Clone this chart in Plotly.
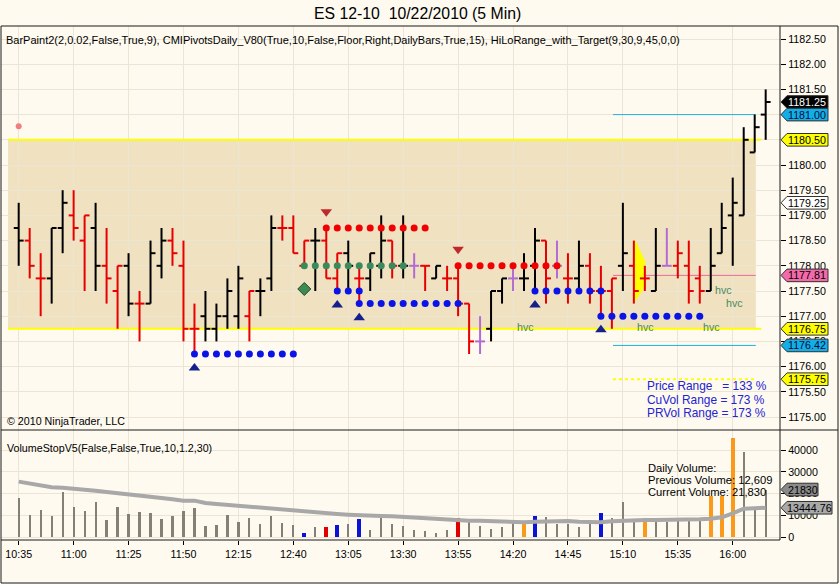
import plotly.graph_objects as go

# ---------------- data ----------------
tick_labels = ["10:35", "11:00", "11:25", "11:50", "12:15", "12:40", "13:05",
               "13:30", "13:55", "14:20", "14:45", "15:10", "15:35", "16:00"]

opens = [1178.75, 1178.5, 1177.75, 1177.75, 1178.75, 1179.0, 1178.5, 1178.75, 1178.0, 1177.5,
         1178.0, 1177.25, 1177.25, 1178.0, 1178.5, 1178.0, 1176.75, 1177.0, 1176.75, 1177.0,
         1177.0, 1177.0, 1177.5, 1177.75, 1178.75, 1178.75, 1178.0, 1178.5, 1178.5, 1177.75,
         1178.25, 1177.75, 1177.75, 1178.0, 1178.5, 1178.0, 1178.0, 1178.0, 1177.75, 1177.75,
         1177.75, 1177.25, 1176.5, 1176.75, 1177.5, 1177.75, 1177.75, 1178.0, 1178.5, 1178.0,
         1177.75, 1177.75, 1178.0, 1177.5, 1177.5, 1178.0, 1178.0, 1177.75, 1177.5, 1178.0,
         1178.0, 1178.0, 1177.75, 1177.5, 1178.25, 1179.0, 1179.0, 1180.25, 1181.0]
highs = [1179.25, 1178.75, 1178.25, 1178.75, 1179.5, 1179.5, 1179.0, 1179.25, 1178.75, 1178.0,
         1178.25, 1177.5, 1178.5, 1178.75, 1178.75, 1178.5, 1177.25, 1177.5, 1177.25, 1177.75,
         1178.0, 1177.5, 1177.75, 1179.0, 1179.0, 1179.0, 1178.5, 1178.75, 1178.75, 1178.25,
         1178.5, 1178.0, 1178.25, 1179.0, 1178.5, 1179.0, 1178.25, 1178.0, 1178.0, 1178.0,
         1178.0, 1177.25, 1177.0, 1177.5, 1177.75, 1178.0, 1178.25, 1178.75, 1178.5, 1178.5,
         1178.25, 1178.5, 1178.25, 1178.0, 1177.75, 1179.25, 1178.5, 1178.0, 1178.75, 1178.75,
         1178.5, 1178.5, 1178.0, 1178.75, 1179.25, 1179.75, 1180.75, 1181.0, 1181.5]
lows = [1178.0, 1177.75, 1177.0, 1177.25, 1178.25, 1178.5, 1177.5, 1177.5, 1177.25, 1176.75,
        1177.0, 1176.5, 1177.25, 1177.75, 1178.0, 1176.5, 1176.25, 1176.5, 1176.5, 1176.75,
        1176.75, 1176.5, 1177.0, 1177.5, 1178.5, 1178.25, 1178.0, 1177.5, 1177.75, 1177.5,
        1177.5, 1177.25, 1177.5, 1177.75, 1177.75, 1177.75, 1177.75, 1177.5, 1177.75, 1177.5,
        1177.0, 1176.25, 1176.25, 1176.5, 1177.25, 1177.5, 1177.5, 1177.5, 1177.25, 1177.75,
        1177.25, 1177.5, 1177.25, 1177.0, 1176.75, 1177.5, 1177.25, 1177.5, 1177.5, 1178.0,
        1177.75, 1177.25, 1177.25, 1177.5, 1178.25, 1178.0, 1179.0, 1180.25, 1180.5]
closes = [1178.5, 1178.0, 1177.75, 1178.75, 1179.25, 1178.75, 1179.0, 1178.0, 1177.75, 1178.0,
          1177.25, 1177.25, 1178.25, 1178.5, 1178.25, 1176.75, 1176.75, 1176.75, 1177.0, 1177.5,
          1177.75, 1177.5, 1177.5, 1178.75, 1178.75, 1178.25, 1178.5, 1178.5, 1177.75, 1178.25,
          1178.0, 1177.75, 1178.25, 1178.5, 1178.0, 1178.0, 1178.0, 1178.0, 1178.0, 1177.75,
          1177.25, 1176.5, 1176.5, 1177.5, 1177.75, 1177.75, 1177.75, 1178.5, 1177.75, 1178.0,
          1177.75, 1178.0, 1177.5, 1177.5, 1177.75, 1178.25, 1177.5, 1177.75, 1178.0, 1178.0,
          1178.25, 1177.5, 1177.5, 1178.0, 1178.75, 1179.25, 1180.5, 1180.75, 1181.25]
# bar paint: k = black, r = red, p = violet
bar_paint = ("krrkkrrkrr" "krkkrrrkkk" "krkkrrrkrr" "krkkrkprkr"
             "rrpkkpkkrp" "rkrrrkrrkp" "rrrkkkkkk")

volumes = [18090, 10120, 12400, 9800, 20850, 13950, 12100, 16250, 7800, 13950,
           10580, 11500, 11040, 8280, 9800, 12100, 13500, 5200, 5520, 10100,
           6900, 8900, 6000, 9660, 6600, 5500, 1840, 4750, 4750, 5500,
           6000, 8430, 3220, 8900, 6000, 5060, 3220, 2760, 1690, 3220,
           8900, 7050, 5060, 3680, 4750, 6600, 6300, 9660, 9050, 6000,
           6000, 4750, 6300, 10900, 8900, 16250, 8280, 7050, 8280, 7050,
           8130, 8130, 8900, 19000, 19000, 45700, 39250, 12880, 21830]
# volume paint: g = gray, b = blue, r = red, o = orange
vol_paint = ("gggggggggg" "gggggggggg" "ggggggbgrb" "gbgggggggg"
             "rgggggobgg" "gggbgggogg" "gggooogggg")[:69]
vol_ma = [25450, 24530, 23760, 22840, 22690, 22380, 21920, 21310, 20700, 20240,
          19780, 19160, 18550, 17940, 17320, 16710, 16710, 15640, 15180, 14720,
          14260, 13950, 13640, 13340, 12880, 12420, 11800, 11190, 10880, 10580,
          10270, 9960, 9810, 9660, 9500, 9200, 8740, 8430, 7970, 7660,
          7510, 7510, 7510, 7360, 7050, 6750, 6750, 7050, 7200, 7360,
          7360, 7050, 6750, 6750, 7200, 7510, 7660, 7820, 7820, 7820,
          7820, 7820, 8120, 8430, 9040, 10880, 13030, 13180, 13444.76]

# pivot dot runs: start bar, end bar, price level, colour key
dot_start = [16, 26, 28, 29, 31, 40, 47, 53]
dot_end = [25, 35, 37, 31, 40, 49, 53, 62]
dot_level = [1176.25, 1178.0, 1178.75, 1177.5, 1177.25, 1178.0, 1177.5, 1177.0]
dot_kind = ["b", "g", "r", "b", "b", "r", "b", "b"]

tri_down_x = [28, 40]
tri_down_y = [1179.07, 1178.33]
tri_up_x = [16, 29, 31, 47, 53]
tri_up_y = [1175.97, 1177.22, 1176.97, 1177.22, 1176.73]
diamond_x = [26]
diamond_y = [1177.54]
flag_x = [0]
flag_y = [1180.77]
wedge_x = [56.1, 57.0, 57.0, 56.1]
wedge_y = [1178.5, 1178.08, 1177.6, 1177.3]

hvc_x = [46.1, 57.1, 63.1, 64.2, 65.2]
hvc_y = [1176.79, 1176.79, 1176.79, 1177.52, 1177.26]

range_top, range_bottom = 1180.50, 1176.75
target_up, target_dn = 1181.00, 1176.42
pivot_pink = 1177.81
yellow_low = 1175.75
last_price = 1181.25
prior_mark = 1179.25

range_lines = ["Price Range   = 133 %", "CuVol Range = 173 %", "PRVol Range = 173 %"]
vol_lines = ["Daily Volume:", "Previous Volume: 12,609", "Current Volume: 21,830"]
last_volume = 21830
last_vol_ma = 13444.76

# ---------------- geometry ----------------
W, H = 840, 584
ML, MR, MT, MB = 1, 60, 26, 44
PW, PH = W - ML - MR, H - MT - MB
PX0, PXB = 18.7, 10.985           # pixel of first bar, pixels per bar
PY_TOP, PY_SEP, PY_BOT = 26, 430, 540
PPP = 50.4                          # pixels per price point
VPP = 87.0 / 40000                  # pixels per contract


def pxx(px):
    return (px - ML) / PW


def pxy(py):
    return (PY_BOT - py) / PH


FONT = "Liberation Sans, Arial, sans-serif"
BG = "#fefaf0"
GRID = "#ebe5d6"
COL = {"k": "#000000", "r": "#e80000", "p": "#b36bd4"}
DOTC = {"b": "#0a14e6", "g": "#3b8a5c", "r": "#f00000"}
VCOL = {"g": "#858076", "b": "#0a14d8", "r": "#e00000", "o": "#fb9a1a"}

x_lo = (ML - PX0) / PXB
x_hi = (ML + PW - PX0) / PXB
p_hi = 1182.5 + (39 - PY_TOP) / PPP
p_lo = 1182.5 - (PY_SEP - 39) / PPP
v_hi = (537 - PY_SEP) / VPP
v_lo = -(PY_BOT - 537) / VPP
dom_split = (PY_BOT - PY_SEP) / PH

fig = go.Figure()

# yellow wedge
fig.add_trace(go.Scatter(x=wedge_x, y=wedge_y, fill="toself", mode="lines",
                         fillcolor="#ffff00", line=dict(color="#ffff00", width=1),
                         hoverinfo="skip"))

# OHLC bars drawn as segments
TW = 0.45
for key in "krp":
    xs, ys = [], []
    for i, c in enumerate(bar_paint):
        if c != key:
            continue
        xs += [i, i, None, i - TW, i, None, i, i + TW, None]
        ys += [lows[i], highs[i], None, opens[i], opens[i], None, closes[i], closes[i], None]
    fig.add_trace(go.Scatter(x=xs, y=ys, mode="lines", connectgaps=False,
                             line=dict(color=COL[key], width=2), hoverinfo="skip"))

# pivot dots
for s, e, lv, k in zip(dot_start, dot_end, dot_level, dot_kind):
    xs = list(range(s, e + 1))
    fig.add_trace(go.Scatter(x=xs, y=[lv] * len(xs), mode="markers",
                             marker=dict(color=DOTC[k], size=7), hoverinfo="skip"))

fig.add_trace(go.Scatter(x=tri_down_x, y=tri_down_y, mode="markers",
                         marker=dict(symbol="triangle-down", size=10, color="#c0282c"), hoverinfo="skip"))
fig.add_trace(go.Scatter(x=tri_up_x, y=tri_up_y, mode="markers",
                         marker=dict(symbol="triangle-up", size=10, color="#15208c"), hoverinfo="skip"))
fig.add_trace(go.Scatter(x=diamond_x, y=diamond_y, mode="markers",
                         marker=dict(symbol="diamond", size=10, color="#3f8a52",
                                     line=dict(color="#1f4a2a", width=1)), hoverinfo="skip"))
fig.add_trace(go.Scatter(x=flag_x, y=flag_y, mode="markers",
                         marker=dict(size=6, color="#f08080"), hoverinfo="skip"))

# volume
fig.add_trace(go.Bar(x=list(range(len(volumes))), y=volumes, yaxis="y2",
                     marker=dict(color=[VCOL[c] for c in vol_paint], line=dict(width=0)),
                     width=[0.2 if c == "g" else 0.38 for c in vol_paint], hoverinfo="skip"))
fig.add_trace(go.Scatter(x=list(range(len(vol_ma))), y=vol_ma, yaxis="y2", mode="lines",
                         line=dict(color="#a8a8a8", width=4), hoverinfo="skip"))

shapes = []
# price range box
shapes.append(dict(type="rect", xref="x", yref="y", x0=-0.97, x1=67.1,
                   y0=range_bottom, y1=range_top, fillcolor="#f0e1c1",
                   line=dict(width=0), layer="below"))
shapes.append(dict(type="line", xref="x", yref="y", x0=-0.97, x1=67.6, y0=range_top, y1=range_top,
                   line=dict(color="#ffff00", width=2), layer="between"))
shapes.append(dict(type="line", xref="x", yref="y", x0=-0.97, x1=67.6, y0=range_bottom, y1=range_bottom,
                   line=dict(color="#ffff00", width=2), layer="between"))
shapes.append(dict(type="line", xref="x", yref="y", x0=54.1, x1=67.1, y0=yellow_low, y1=yellow_low,
                   line=dict(color="#ffff00", width=2, dash="dot"), layer="between"))
for lv in (target_up, target_dn):
    shapes.append(dict(type="line", xref="x", yref="y", x0=54.1, x1=67.1, y0=lv, y1=lv,
                       line=dict(color="#1fb0e0", width=1), layer="between"))
shapes.append(dict(type="line", xref="x", yref="y", x0=54.1, x1=67.1, y0=pivot_pink, y1=pivot_pink,
                   line=dict(color="#e86a9a", width=1), layer="between"))

# frame
frame = "#1a1a1a"
shapes += [
    dict(type="line", xref="paper", yref="paper", x0=pxx(1), x1=pxx(838), y0=pxy(PY_TOP), y1=pxy(PY_TOP), line=dict(color=frame, width=1)),
    dict(type="line", xref="paper", yref="paper", x0=pxx(1), x1=pxx(838), y0=pxy(PY_SEP), y1=pxy(PY_SEP), line=dict(color=frame, width=1)),
    dict(type="line", xref="paper", yref="paper", x0=pxx(1), x1=pxx(838), y0=pxy(583), y1=pxy(583), line=dict(color=frame, width=1)),
    dict(type="line", xref="paper", yref="paper", x0=pxx(1), x1=pxx(780), y0=pxy(PY_BOT), y1=pxy(PY_BOT), line=dict(color=frame, width=1)),
    dict(type="line", xref="paper", yref="paper", x0=pxx(1), x1=pxx(1), y0=pxy(PY_TOP), y1=pxy(583), line=dict(color=frame, width=1)),
    dict(type="line", xref="paper", yref="paper", x0=pxx(838), x1=pxx(838), y0=pxy(PY_TOP), y1=pxy(583), line=dict(color=frame, width=1)),
    dict(type="line", xref="paper", yref="paper", x0=pxx(780), x1=pxx(780), y0=pxy(PY_TOP), y1=pxy(PY_BOT), line=dict(color=frame, width=1)),
]

annotations = []


def axis_tag(yref, val, text, bg, fg, right_px, hh):
    tip, body = pxx(781), pxx(787)
    r = pxx(right_px)
    path = (f"M {tip},{val} L {body},{val + hh} L {r},{val + hh} "
            f"L {r},{val - hh} L {body},{val - hh} Z")
    shapes.append(dict(type="path", xref="paper", yref=yref, path=path,
                       fillcolor=bg, line=dict(color="#303030", width=1), layer="above"))
    annotations.append(dict(xref="paper", yref=yref, x=(body + r) / 2, y=val, text=text,
                            showarrow=False, font=dict(family=FONT, size=10.7, color=fg),
                            xanchor="center", yanchor="middle"))


hp = 6.3 / PPP
hv = 6.3 / VPP
axis_tag("y", last_price, f"{last_price:.2f}", "#000000", "#ffffff", 828, hp)
axis_tag("y", target_up, f"{target_up:.2f}", "#12aee8", "#0a0a30", 828, hp)
axis_tag("y", range_top, f"{range_top:.2f}", "#ffff00", "#000000", 828, hp)
axis_tag("y", prior_mark, f"{prior_mark:.2f}", "#ffffff", "#000000", 828, hp)
axis_tag("y", pivot_pink, f"{pivot_pink:.2f}", "#f46aa8", "#000000", 828, hp)
axis_tag("y", range_bottom, f"{range_bottom:.2f}", "#ffff00", "#000000", 828, hp)
axis_tag("y", target_dn, f"{target_dn:.2f}", "#12aee8", "#0a0a30", 828, hp)
axis_tag("y", yellow_low, f"{yellow_low:.2f}", "#ffff00", "#000000", 828, hp)
axis_tag("y2", last_volume, f"{last_volume}", "#8a8a8a", "#000000", 818, hv)
axis_tag("y2", last_vol_ma, f"{last_vol_ma:.2f}", "#a9a9a9", "#000000", 832, hv)


def txt(text, px, py, size=10.7, color="#000000", xanchor="left"):
    annotations.append(dict(xref="paper", yref="paper", x=pxx(px), y=pxy(py), text=text,
                            showarrow=False, xanchor=xanchor, yanchor="middle",
                            font=dict(family=FONT, size=size, color=color)))


txt("ES 12-10  10/22/2010 (5 Min)", 418, 13, size=15.8, xanchor="center")
txt("BarPaint2(2,0.02,False,True,9), CMIPivotsDaily_V80(True,10,False,Floor,Right,DailyBars,True,15), "
    "HiLoRange_with_Target(9,30,9,45,0,0)", 4, 40, size=11.0)
txt("© 2010 NinjaTrader, LLC", 5, 421)
txt("VolumeStopV5(False,False,True,10,1.2,30)", 5, 448)
for i, line in enumerate(range_lines):
    txt(line, 645, 386 + i * 13.5, size=11.9, color="#2323d2")
for i, line in enumerate(vol_lines):
    txt(line, 646, 468 + i * 12, size=11.2)
for hx, hy in zip(hvc_x, hvc_y):
    annotations.append(dict(xref="x", yref="y", x=hx, y=hy, text="hvc", showarrow=False,
                            xanchor="center", yanchor="middle",
                            font=dict(family=FONT, size=10.7, color="#4a8c5e")))

fig.update_layout(
    width=W, height=H, margin=dict(l=ML, r=MR, t=MT, b=MB),
    paper_bgcolor=BG, plot_bgcolor=BG, showlegend=False, bargap=0,
    font=dict(family=FONT, size=10.7, color="#000000"),
    xaxis=dict(range=[x_lo, x_hi], anchor="y2", tickvals=[i * 5 for i in range(len(tick_labels))],
               ticktext=tick_labels, ticks="outside", ticklen=4, tickcolor="#000000",
               showgrid=True, gridcolor=GRID, gridwidth=1, zeroline=False, showline=False,
               tickfont=dict(size=10.7, color="#000000")),
    yaxis=dict(domain=[dom_split, 1], range=[p_lo, p_hi], side="right", anchor="x",
               tick0=0, dtick=0.5, tickformat=".2f", ticks="outside", ticklen=5,
               tickcolor="#000000", showgrid=True, gridcolor=GRID, zeroline=False,
               showline=False, tickfont=dict(size=10.7, color="#000000")),
    yaxis2=dict(domain=[0, dom_split], range=[v_lo, v_hi], side="right", anchor="x",
                tick0=0, dtick=10000, tickformat="d", ticks="outside", ticklen=5,
                tickcolor="#000000", showgrid=True, gridcolor=GRID, zeroline=False,
                showline=False, tickfont=dict(size=10.7, color="#000000")),
    shapes=shapes, annotations=annotations,
)

fig.write_html("out.html", config={"displayModeBar": False},
               post_script="document.body.style.margin='0';document.body.style.overflow='hidden';")
